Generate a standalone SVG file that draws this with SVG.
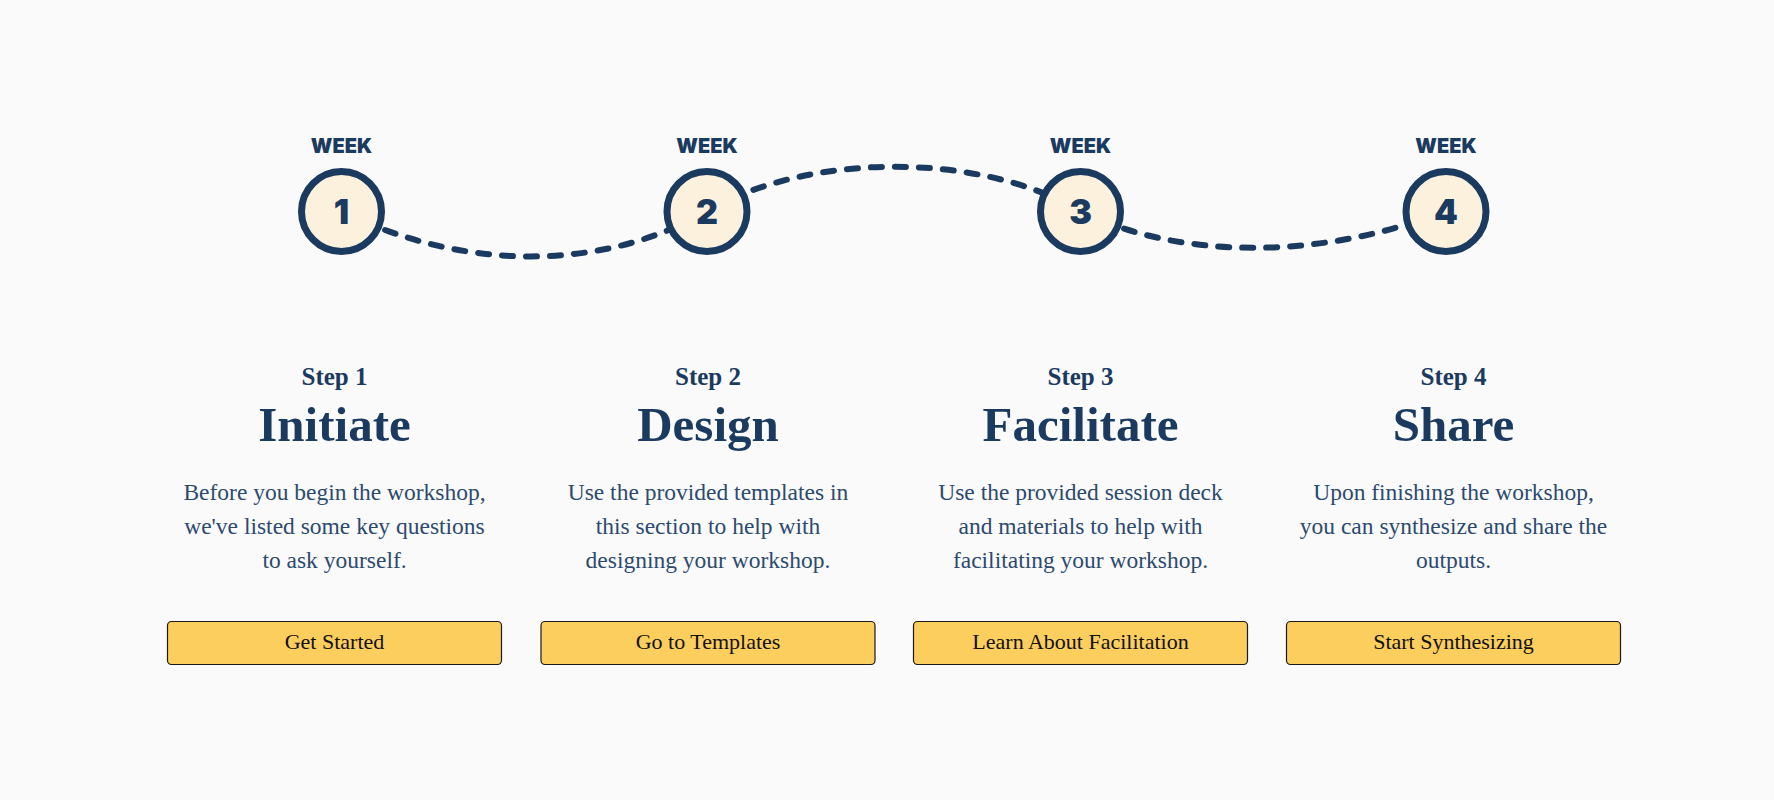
<svg xmlns="http://www.w3.org/2000/svg" width="1774" height="800" viewBox="0 0 1774 800">
<style>
.week{font-family:Inter,"DejaVu Sans",sans-serif;font-weight:900;font-size:20px;fill:#1b3a5f;text-anchor:middle}
.num{font-family:Inter,"DejaVu Sans",sans-serif;font-weight:900;font-size:34px;fill:#1b3a5f;text-anchor:middle}
.ring{fill:#fbf1dc;stroke:#1b3a5f;stroke-width:7}
.step{font-family:"Liberation Serif",serif;font-weight:bold;font-size:25px;fill:#1b3a5f;text-anchor:middle}
.title{font-family:"Liberation Serif",serif;font-weight:bold;font-size:49px;fill:#1b3a5f;text-anchor:middle}
.body{font-family:"Liberation Serif",serif;font-size:23.5px;fill:#2c4a6e;text-anchor:middle}
.btn{fill:#fcce5e;stroke:#1a1a1a;stroke-width:1.2}
.btxt{font-family:"Liberation Serif",serif;font-size:22px;fill:#111;text-anchor:middle}
.path{fill:none;stroke:#1b3a5f;stroke-width:6;stroke-dasharray:11 13;stroke-linecap:round}
</style>
<rect width="1774" height="800" fill="#fafafa"/>
<g id="connectors">
<path class="path" d="M341,211 C470,275 610,268 707,211 C810,152 980,152 1080,211 C1180,260 1320,260 1446,211"/>
</g>
<g id="week1">
<text class="week" x="341.5" y="153">WEEK</text>
<circle class="ring" cx="341.5" cy="211.5" r="40"/>
<text class="num" x="341.5" y="224">1</text>
</g>
<g id="week2">
<text class="week" x="707" y="153">WEEK</text>
<circle class="ring" cx="707" cy="211.5" r="40"/>
<text class="num" x="707" y="224">2</text>
</g>
<g id="week3">
<text class="week" x="1080.5" y="153">WEEK</text>
<circle class="ring" cx="1080.5" cy="211.5" r="40"/>
<text class="num" x="1080.5" y="224">3</text>
</g>
<g id="week4">
<text class="week" x="1446" y="153">WEEK</text>
<circle class="ring" cx="1446" cy="211.5" r="40"/>
<text class="num" x="1446" y="224">4</text>
</g>
<g id="step1">
<text class="step" x="334.5" y="385">Step 1</text>
<text class="title" x="334.5" y="441">Initiate</text>
<text class="body" x="334.5" y="500">Before you begin the workshop,</text>
<text class="body" x="334.5" y="534">we've listed some key questions</text>
<text class="body" x="334.5" y="568">to ask yourself.</text>
<rect class="btn" x="167.5" y="621.5" width="334" height="43" rx="4"/>
<text class="btxt" x="334.5" y="649">Get Started</text>
</g>
<g id="step2">
<text class="step" x="708" y="385">Step 2</text>
<text class="title" x="708" y="441">Design</text>
<text class="body" x="708" y="500">Use the provided templates in</text>
<text class="body" x="708" y="534">this section to help with</text>
<text class="body" x="708" y="568">designing your workshop.</text>
<rect class="btn" x="541" y="621.5" width="334" height="43" rx="4"/>
<text class="btxt" x="708" y="649">Go to Templates</text>
</g>
<g id="step3">
<text class="step" x="1080.5" y="385">Step 3</text>
<text class="title" x="1080.5" y="441">Facilitate</text>
<text class="body" x="1080.5" y="500">Use the provided session deck</text>
<text class="body" x="1080.5" y="534">and materials to help with</text>
<text class="body" x="1080.5" y="568">facilitating your workshop.</text>
<rect class="btn" x="913.5" y="621.5" width="334" height="43" rx="4"/>
<text class="btxt" x="1080.5" y="649">Learn About Facilitation</text>
</g>
<g id="step4">
<text class="step" x="1453.5" y="385">Step 4</text>
<text class="title" x="1453.5" y="441">Share</text>
<text class="body" x="1453.5" y="500">Upon finishing the workshop,</text>
<text class="body" x="1453.5" y="534">you can synthesize and share the</text>
<text class="body" x="1453.5" y="568">outputs.</text>
<rect class="btn" x="1286.5" y="621.5" width="334" height="43" rx="4"/>
<text class="btxt" x="1453.5" y="649">Start Synthesizing</text>
</g>
</svg>
